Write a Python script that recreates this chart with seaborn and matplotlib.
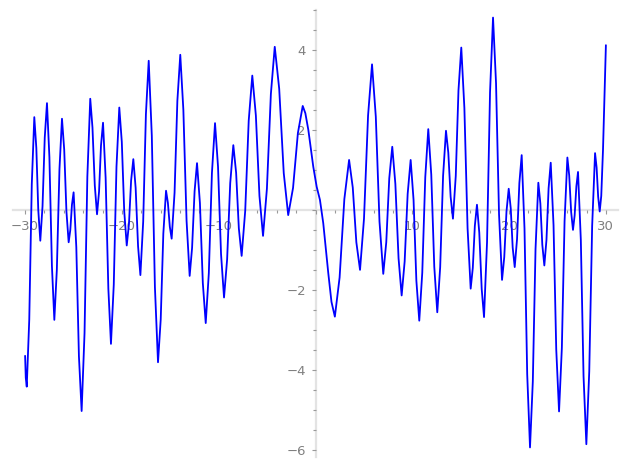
import matplotlib
matplotlib.use("Agg")
import matplotlib.pyplot as plt
import seaborn as sns
from matplotlib.ticker import MultipleLocator, FuncFormatter

# points: peaks, troughs and a couple of points on each flank
x_vals = [-30.0, -29.93, -29.83, -29.57, -29.31, -29.05, -28.84, -28.64,
          -28.43, -28.2, -27.97, -27.74, -27.49, -27.23, -26.98, -26.72,
          -26.45, -26.19, -25.96, -25.73, -25.5, -25.33, -25.16, -24.99,
          -24.71, -24.44, -24.16, -23.86, -23.57, -23.27, -23.04, -22.80,
          -22.57, -22.36, -22.16, -21.95, -21.68, -21.40, -21.13, -20.84,
          -20.56, -20.27, -20.01, -19.76, -19.5, -19.27, -19.05, -18.82,
          -18.58, -18.33, -18.09, -17.80, -17.52, -17.23, -16.91, -16.59,
          -16.27, -15.99, -15.72, -15.44, -15.25, -15.05, -14.86, -14.56,
          -14.27, -13.97, -13.65, -13.32, -13.0, -12.75, -12.49, -12.24,
          -11.94, -11.64, -11.34, -11.02, -10.70, -10.38, -10.07, -9.76,
          -9.45, -9.13, -8.81, -8.49, -8.20, -7.92, -7.63, -7.26,
          -6.90, -6.53, -6.16, -5.79, -5.42, -5.02, -4.61, -4.21,
          -3.75, -3.28, -2.82, -2.32, -1.82, -1.32, -1.05, -0.74,
          -0.23, 0.12, 0.46, 0.8, 1.32, 1.65, 2.0, 2.49,
          2.98, 3.47, 3.85, 4.22, 4.6, 5.01, 5.43, 5.84,
          6.23, 6.61, 7.0, 7.31, 7.62, 7.93, 8.25, 8.58,
          8.9, 9.21, 9.52, 9.83, 10.13, 10.42, 10.72, 11.03,
          11.34, 11.65, 11.96, 12.27, 12.58, 12.88, 13.18, 13.48,
          13.72, 13.96, 14.2, 14.49, 14.77, 15.06, 15.38, 15.71,
          16.03, 16.25, 16.46, 16.68, 16.92, 17.17, 17.41, 17.72,
          18.03, 18.34, 18.65, 18.96, 19.27, 19.50, 19.73, 19.96,
          20.17, 20.37, 20.58, 20.82, 21.06, 21.3, 21.59, 21.87,
          22.16, 22.45, 22.73, 23.02, 23.23, 23.43, 23.64, 23.86,
          24.08, 24.3, 24.59, 24.87, 25.16, 25.45, 25.73, 26.02,
          26.21, 26.41, 26.6, 26.77, 26.95, 27.12, 27.41, 27.69,
          27.98, 28.28, 28.58, 28.88, 29.04, 29.20, 29.36, 29.52,
          29.7, 29.85, 30.0]
y_vals = [-3.65, -4.2, -4.42, -2.74, 0.64, 2.32, 1.55, 0.0,
          -0.77, 0.09, 1.81, 2.67, 1.32, -1.40, -2.75, -1.49,
          1.02, 2.28, 1.51, -0.04, -0.81, -0.50, 0.13, 0.44,
          -0.93, -3.66, -5.03, -3.08, 0.83, 2.78, 2.06, 0.61,
          -0.11, 0.46, 1.61, 2.18, 0.80, -1.97, -3.35, -1.87,
          1.08, 2.56, 1.70, -0.03, -0.89, -0.35, 0.73, 1.27,
          0.55, -0.91, -1.63, -0.29, 2.39, 3.73, 1.85, -1.93,
          -3.81, -2.74, -0.59, 0.48, 0.18, -0.42, -0.72, 0.43,
          2.73, 3.88, 2.50, -0.27, -1.65, -0.95, 0.47, 1.17,
          0.17, -1.83, -2.83, -1.58, 0.92, 2.17, 1.08, -1.10,
          -2.19, -1.24, 0.67, 1.62, 0.93, -0.46, -1.15, -0.02,
          2.23, 3.36, 2.36, 0.35, -0.65, 0.53, 2.90, 4.08,
          3.03, 0.92, -0.13, 0.55, 1.92, 2.6, 2.42, 2.0,
          1.08, 0.58, 0.25, -0.33, -1.58, -2.3, -2.67, -1.69,
          0.27, 1.25, 0.56, -0.81, -1.5, -0.22, 2.36, 3.64,
          2.33, -0.29, -1.6, -0.81, 0.79, 1.58, 0.65, -1.21,
          -2.14, -1.29, 0.40, 1.25, 0.25, -1.77, -2.77, -1.57,
          0.82, 2.02, 0.88, -1.42, -2.56, -1.43, 0.85, 1.98,
          1.43, 0.33, -0.22, 0.85, 2.99, 4.06, 2.55, -0.46,
          -1.97, -1.45, -0.40, 0.13, -0.57, -1.98, -2.68, -0.81,
          2.94, 4.81, 3.17, -0.11, -1.75, -1.18, -0.04, 0.53,
          0.04, -0.94, -1.43, -0.73, 0.67, 1.37, -0.46, -4.11,
          -5.94, -4.29, -0.98, 0.68, 0.16, -0.87, -1.39, -0.75,
          0.54, 1.18, -0.38, -3.49, -5.04, -3.45, -0.28, 1.31,
          0.86, -0.05, -0.5, -0.14, 0.59, 0.95, -0.75, -4.16,
          -5.86, -4.04, -0.40, 1.42, 1.06, 0.33, -0.04, 0.35,
          1.5, 2.8, 4.12]

sns.set_style("white")

fig = plt.figure(figsize=(6.27, 4.68), dpi=100)
ax = fig.add_axes([13 / 627, 11 / 468, 605 / 627, 447 / 468])

sns.lineplot(x=x_vals, y=y_vals, sort=False, estimator=None, color="blue",
             linewidth=1.3, ax=ax)
ax.lines[0].set_solid_joinstyle("round")

ax.set_xlim(-31.25, 31.25)
ax.set_ylim(-6.18, 5.0)

# axes cross at the origin
ax.spines["left"].set_position(("data", 0))
ax.spines["bottom"].set_position(("data", 0))
ax.spines["top"].set_visible(False)
ax.spines["right"].set_visible(False)
for s in ["left", "bottom"]:
    ax.spines[s].set_color("#e3e3e3")
    ax.spines[s].set_linewidth(1.6)
    ax.spines[s].set_zorder(0)

ax.xaxis.set_major_locator(MultipleLocator(10))
ax.xaxis.set_minor_locator(MultipleLocator(2))
ax.yaxis.set_major_locator(MultipleLocator(2))
ax.yaxis.set_minor_locator(MultipleLocator(0.5))


def tick_text(v, pos):
    if abs(v) < 1e-9:
        return ""
    return "%d" % round(v) if v > 0 else "\u2212%d" % round(-v)


ax.xaxis.set_major_formatter(FuncFormatter(tick_text))
ax.yaxis.set_major_formatter(FuncFormatter(tick_text))

ax.tick_params(which="major", length=3, width=0.8, color="#999999",
               labelcolor="#808080", labelsize=9.5, pad=4, direction="out",
               bottom=True, left=True)
ax.tick_params(which="minor", length=2, width=0.8, color="#999999",
               direction="out", bottom=True, left=True)

ax.set_xlabel("")
ax.set_ylabel("")

plt.savefig("out.png", dpi=100)
